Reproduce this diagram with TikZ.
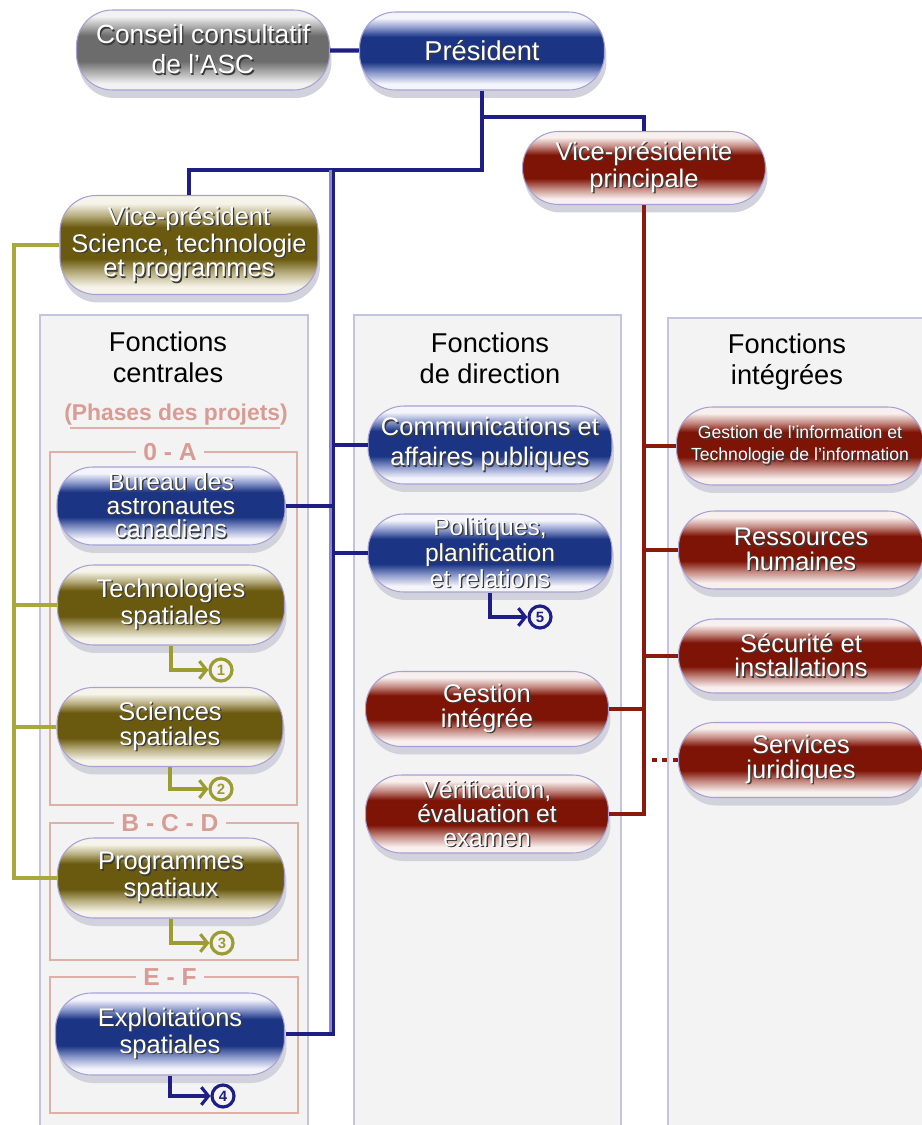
\documentclass[tikz,border=0pt]{standalone}
\usepackage{fontspec}
\setmainfont{Liberation Sans}
\usetikzlibrary{arrows.meta, positioning, shadows}

\definecolor{navyln}{HTML}{1E1E86}
\definecolor{navylt}{HTML}{8A88C8}
\definecolor{redln}{HTML}{8A1A0C}
\definecolor{oliveln}{HTML}{A8A83C}
\definecolor{olivemk}{HTML}{9C9C30}
\definecolor{panelfill}{HTML}{F3F3F3}
\definecolor{panelline}{HTML}{C4C4DE}
\definecolor{phaseline}{HTML}{DDB0A8}
\definecolor{phasetext}{HTML}{D89C94}
\definecolor{pillline}{HTML}{A8A0D4}
\definecolor{pillshadow}{HTML}{D2D2DC}
\definecolor{txtshadow}{HTML}{3A3A3A}
\definecolor{blueDk}{HTML}{1B3584}
\definecolor{blueMd}{HTML}{8C9ACC}
\definecolor{blueLt}{HTML}{F4F4FB}
\definecolor{redDk}{HTML}{7E1406}
\definecolor{redMd}{HTML}{C48A82}
\definecolor{redLt}{HTML}{F8F0EE}
\definecolor{olvDk}{HTML}{6A5A10}
\definecolor{olvMd}{HTML}{B8AE80}
\definecolor{olvLt}{HTML}{F6F4EA}
\definecolor{gryDk}{HTML}{6C6C6C}
\definecolor{gryMd}{HTML}{B0B0B0}
\definecolor{gryLt}{HTML}{F2F2F2}

\pgfdeclareverticalshading{pillblue}{100bp}{color(0bp)=(blueLt); color(29bp)=(blueLt); color(36bp)=(blueMd); color(43bp)=(blueDk); color(59bp)=(blueDk); color(65bp)=(blueMd); color(71bp)=(blueLt); color(100bp)=(blueLt)}
\pgfdeclareverticalshading{pillred}{100bp}{color(0bp)=(redLt); color(29bp)=(redLt); color(36bp)=(redMd); color(43bp)=(redDk); color(59bp)=(redDk); color(65bp)=(redMd); color(71bp)=(redLt); color(100bp)=(redLt)}
\pgfdeclareverticalshading{pillolive}{100bp}{color(0bp)=(olvLt); color(29bp)=(olvLt); color(36bp)=(olvMd); color(43bp)=(olvDk); color(59bp)=(olvDk); color(65bp)=(olvMd); color(71bp)=(olvLt); color(100bp)=(olvLt)}
\pgfdeclareverticalshading{pillgray}{100bp}{color(0bp)=(gryLt); color(29bp)=(gryLt); color(36bp)=(gryMd); color(43bp)=(gryDk); color(59bp)=(gryDk); color(65bp)=(gryMd); color(71bp)=(gryLt); color(100bp)=(gryLt)}

\newcommand{\sht}[1]{\rlap{\kern0.8pt\raisebox{-0.8pt}{\color{txtshadow}#1}}#1}

\begin{document}
\begin{tikzpicture}[
  x=0.02cm, y=-0.02cm,
  pill/.style={rounded corners=0.72cm, draw=pillline, line width=0.6pt, shade,
               text=white, align=center, inner sep=0pt,
               font=\fontsize{14.5}{14}\selectfont,
               minimum width=4.9cm, minimum height=1.56cm,
               drop shadow={shadow xshift=0.04cm, shadow yshift=-0.16cm, fill=pillshadow, opacity=1}},
  bluepill/.style={pill, shading=pillblue},
  redpill/.style={pill, shading=pillred},
  olivepill/.style={pill, shading=pillolive},
  graypill/.style={pill, shading=pillgray},
  panel/.style={fill=panelfill, draw=panelline, line width=0.8pt},
  phasebox/.style={draw=phaseline, line width=0.8pt},
  phase/.style={fill=panelfill, text=phasetext, inner xsep=4pt, inner ysep=0pt,
                font=\bfseries\fontsize{14}{14}\selectfont},
  title/.style={align=center, font=\fontsize{15.5}{17.5}\selectfont},
  navyconn/.style={draw=navyln, line width=1.8pt},
  redconn/.style={draw=redln, line width=1.8pt},
  oliveconn/.style={draw=oliveln, line width=2pt},
  numc/.style={circle, draw=#1, text=#1, fill=panelfill, line width=1.8pt,
               minimum size=0.44cm, inner sep=0pt, font=\bfseries\fontsize{8.5}{9}\selectfont},
  link/.style={draw=#1, line width=1.8pt, -{Straight Barb[length=4pt,width=10pt]}}
]
  \useasboundingbox[fill=white] (0,0) rectangle (922,1125);

  \draw[panel] (40,315) rectangle (308,1130);
  \draw[panel] (354,315) rectangle (621,1130);
  \draw[panel] (668,318) rectangle (926,1130);

  \node[title] (tcent) at (168,357) {Fonctions\\centrales};
  \node[title] (tdir) at (490,358) {Fonctions\\de direction};
  \node[title] (tint) at (787,362) {Fonctions\\intégrées};
  \node[phase, fill=none, font=\bfseries\fontsize{13}{13}\selectfont] (phases) at (176,415) {(Phases des projets)};
  \draw[phaseline, line width=0.7pt] (70,428) -- (280,428);

  \draw[phasebox] (50,452) rectangle (297,805);
  \draw[phasebox] (50,823) rectangle (298,960);
  \draw[phasebox] (50,977) rectangle (298,1113);
  \node[phase] (pa) at (170,452) {0 - A};
  \node[phase] (pbcd) at (170,823) {B - C - D};
  \node[phase] (pef) at (170,977) {E - F};

  \node[graypill, minimum width=5.06cm, minimum height=1.6cm, font=\fontsize{15}{17}\selectfont]
    (conseil) at (203,50) {\sht{Conseil consultatif}\\\sht{de l'ASC}};
  \node[bluepill, font=\fontsize{15.5}{17}\selectfont] (pres) at (482,51) {\sht{Président}};
  \node[redpill, minimum width=4.86cm, minimum height=1.46cm] (vpp) at (644,168)
    {\sht{Vice-présidente}\\\sht{principale}};
  \node[olivepill, minimum width=5.16cm, minimum height=1.98cm, font=\fontsize{14.5}{13.8}\selectfont]
    (vpsci) at (189,245) {\sht{Vice-président}\\\sht{Science, technologie}\\\sht{et programmes}};

  \node[bluepill, minimum width=4.56cm, font=\fontsize{14}{13.4}\selectfont] (bur) at (171,506)
    {\sht{Bureau des}\\\sht{astronautes}\\\sht{canadiens}};
  \node[olivepill, minimum width=4.54cm, minimum height=1.6cm] (tech) at (171,605)
    {\sht{Technologies}\\\sht{spatiales}};
  \node[olivepill, minimum width=4.52cm, minimum height=1.58cm] (sci) at (170,727)
    {\sht{Sciences}\\\sht{spatiales}};
  \node[olivepill, minimum width=4.54cm, minimum height=1.6cm] (prog) at (171,878)
    {\sht{Programmes}\\\sht{spatiaux}};
  \node[bluepill, minimum width=4.58cm, minimum height=1.64cm] (expl) at (170,1034)
    {\sht{Exploitations}\\\sht{spatiales}};

  \node[bluepill, minimum width=4.88cm, font=\fontsize{14.5}{17}\selectfont] (comm) at (490,445)
    {\sht{Communications et}\\\sht{affaires publiques}};
  \node[bluepill, minimum width=4.88cm, font=\fontsize{14}{13.6}\selectfont] (pol) at (490,553)
    {\sht{Politiques,}\\\sht{planification}\\\sht{et relations}};
  \node[redpill, minimum width=4.86cm, minimum height=1.5cm] (gest) at (487,709)
    {\sht{Gestion}\\\sht{intégrée}};
  \node[redpill, minimum width=4.86cm, font=\fontsize{14}{13.6}\selectfont] (verif) at (487,814)
    {\sht{Vérification,}\\\sht{évaluation et}\\\sht{examen}};

  \node[redpill, minimum width=4.94cm, font=\fontsize{10}{12.5}\selectfont] (giti) at (800,446)
    {\sht{Gestion de l'information et}\\\sht{Technologie de l'information}};
  \node[redpill, minimum width=4.9cm] (rh) at (801,550) {\sht{Ressources}\\\sht{humaines}};
  \node[redpill, minimum width=4.9cm, minimum height=1.48cm] (sec) at (801,656)
    {\sht{Sécurité et}\\\sht{installations}};
  \node[redpill, minimum width=4.9cm, minimum height=1.5cm] (jur) at (801,760)
    {\sht{Services}\\\sht{juridiques}};

  \coordinate (jvp) at (482,117);
  \coordinate (jsci) at (482,170);
  \coordinate (ntrunk) at (332,170);
  \coordinate (otrunk) at (14,245);

  \draw[navyconn, line width=2.4pt] (conseil) -- (pres);
  \draw[navyconn, line width=2.4pt] (pres.south) -- (jsci) -| (vpsci.north);
  \draw[navyconn, line width=2.4pt] (jvp) -| (vpp.north);
  \draw[navyconn, draw=navylt, line width=3.2pt] (ntrunk) -- (ntrunk |- expl.east);
  \draw[navyconn, line width=1.8pt, transform canvas={xshift=0.7pt}] (ntrunk) |- (expl.east);
  \draw[navyconn] (bur.east) -- (bur.east -| ntrunk);
  \draw[navyconn] (comm.west) -- (comm.west -| ntrunk);
  \draw[navyconn] (pol.west) -- (pol.west -| ntrunk);

  \draw[redconn] (vpp.south) |- (verif.east);
  \foreach \n in {giti, rh, sec}
    \draw[redconn] (\n.west) -- (\n.west -| vpp.south);
  \draw[redconn] (gest.east) -- (gest.east -| vpp.south);
  \draw[redconn, dashed] (jur.west) -- (jur.west -| vpp.south);

  \draw[oliveconn] (vpsci.west) -- (vpsci.west -| otrunk) |- (prog.west);
  \foreach \n in {tech, sci}
    \draw[oliveconn] (\n.west) -- (\n.west -| otrunk);

  \node[numc=olivemk] (m1) at (221,670) {1};
  \node[numc=olivemk] (m2) at (221,789) {2};
  \node[numc=olivemk] (m3) at (222,943) {3};
  \node[numc=navyln] (m4) at (223,1096) {4};
  \node[numc=navyln] (m5) at (540,617) {5};
  \draw[link=olivemk] (tech.south) |- (m1);
  \draw[link=olivemk] (sci.south) |- (m2);
  \draw[link=olivemk] (prog.south) |- (m3);
  \draw[link=navyln] (expl.south) |- (m4);
  \draw[link=navyln] (pol.south) |- (m5);
\end{tikzpicture}
\end{document}
